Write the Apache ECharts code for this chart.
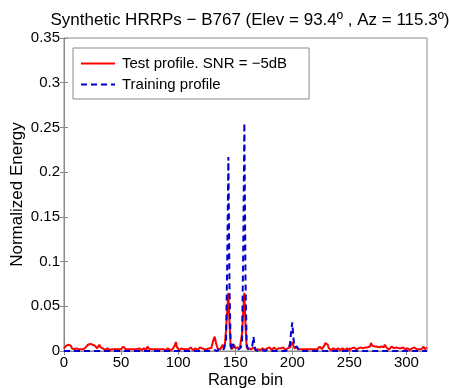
<!DOCTYPE html>
<html>
<head>
<meta charset="utf-8">
<script src="https://cdn.jsdelivr.net/npm/echarts@6/dist/echarts.min.js"></script>
<style>html,body{margin:0;padding:0;background:#fff}#c{width:449px;height:388px}</style>
</head>
<body>
<div id="c"></div>
<script>
const titleText = 'Synthetic HRRPs \u2212 B767 (Elev = 93.4\u00BA , Az = 115.3\u00BA)';
const seriesNames = ['Test profile. SNR = \u22125dB', 'Training profile'];
const xTicks = [0, 50, 100, 150, 200, 250, 300];
const yTicks = [0, 0.05, 0.1, 0.15, 0.2, 0.25, 0.3, 0.35];

// Test profile (red), bins 0..318
const testValues = [
0.003,0.005,0.006,0.008,0.007,0.009,0.006,0.003,0.004,0.002,
0.002,0.003,0.001,0.002,0.003,0.002,0.004,0.002,0.003,0.004,
0.005,0.007,0.006,0.008,0.007,0.007,0.005,0.006,0.004,0.003,
0.005,0.007,0.004,0.002,0.003,0.002,0.001,0.002,0.003,0.002,
0.001,0.002,0.002,0.003,0.002,0.001,0.002,0.003,0.002,0.001,
0.002,0.003,0.005,0.003,0.002,0.001,0.002,0.003,0.002,0.004,
0.002,0.001,0.002,0.003,0.002,0.001,0.003,0.002,0.001,0.002,
0.003,0.002,0.001,0.005,0.003,0.002,0.001,0.002,0.003,0.002,
0.001,0.002,0.003,0.002,0.001,0.002,0.003,0.002,0.002,0.001,
0.002,0.003,0.002,0.001,0.003,0.002,0.004,0.006,0.010,0.004,
0.002,0.001,0.002,0.003,0.001,0.002,0.003,0.002,0.001,0.002,
0.003,0.004,0.002,0.001,0.002,0.003,0.002,0.001,0.002,0.004,
0.002,0.003,0.001,0.002,0.003,0.002,0.004,0.003,0.002,0.003,
0.008,0.013,0.016,0.010,0.005,0.002,0.003,0.002,0.004,0.007,
0.003,0.008,0.025,0.045,0.065,0.030,0.005,0.002,0.004,0.007,
0.003,0.002,0.004,0.002,0.003,0.005,0.020,0.045,0.065,0.028,
0.004,0.002,0.003,0.005,0.002,0.003,0.004,0.002,0.001,0.003,
0.002,0.003,0.001,0.002,0.003,0.002,0.001,0.002,0.003,0.002,
0.004,0.002,0.001,0.003,0.004,0.002,0.001,0.002,0.003,0.002,
0.003,0.002,0.004,0.002,0.001,0.002,0.003,0.002,0.004,0.007,
0.010,0.006,0.003,0.002,0.004,0.003,0.002,0.001,0.002,0.003,
0.002,0.001,0.002,0.003,0.002,0.001,0.002,0.003,0.002,0.004,
0.002,0.003,0.002,0.004,0.005,0.003,0.002,0.004,0.006,0.009,
0.011,0.007,0.003,0.002,0.001,0.002,0.003,0.002,0.001,0.002,
0.003,0.002,0.001,0.002,0.003,0.002,0.001,0.002,0.003,0.002,
0.001,0.002,0.003,0.002,0.004,0.003,0.002,0.004,0.003,0.005,
0.004,0.006,0.003,0.005,0.004,0.002,0.004,0.006,0.005,0.009,
0.006,0.004,0.005,0.007,0.005,0.003,0.004,0.006,0.005,0.003,
0.004,0.007,0.005,0.003,0.004,0.002,0.003,0.005,0.004,0.003,
0.005,0.004,0.002,0.003,0.004,0.003,0.002,0.004,0.003,0.002,
0.002,0.003,0.002,0.001,0.002,0.003,0.002,0.004,0.003,0.002,
0.003,0.002,0.004,0.002,0.003,0.005,0.002,0.003,0.004
];

// Training profile (blue dashed), bins 0..318
const trainValues = [
0,0,0,0,0,0,0,0,0,0,
0,0,0,0,0,0,0,0,0,0,
0,0,0,0,0,0,0,0,0,0,
0,0,0,0,0,0,0,0,0,0,
0,0,0,0,0,0,0,0,0,0,
0,0,0,0,0,0,0,0,0,0,
0,0,0,0,0,0,0,0,0,0,
0,0,0,0,0,0,0,0,0,0,
0,0,0,0,0,0,0,0,0,0,
0,0,0,0,0,0,0,0,0,0,
0,0,0,0,0,0,0,0,0,0,
0,0,0,0,0,0,0,0,0,0,
0,0,0,0,0,0,0,0,0,0.001,
0,0,0.001,0,0,0.001,0.002,0.001,0.003,0.001,
0.002,0.004,0.012,0.100,0.217,0.070,0.006,0.002,0.008,0.003,
0.001,0.002,0.001,0.002,0.001,0.004,0.012,0.110,0.255,0.080,
0.008,0.002,0.001,0.003,0.002,0.006,0.016,0.005,0.001,0,
0,0.001,0,0,0.001,0,0,0,0.001,0,
0,0,0,0,0,0,0,0,0,0,
0,0,0,0,0,0,0.001,0.003,0.008,0.022,
0.032,0.014,0.004,0.002,0.005,0.002,0.001,0,0,0,
0,0,0,0,0,0,0,0,0,0,
0,0,0,0,0,0,0,0,0,0,
0,0,0,0,0,0,0,0,0,0,
0,0,0,0,0,0,0,0,0,0,
0,0,0,0,0,0,0,0,0,0,
0,0,0,0,0,0,0,0,0,0,
0,0,0,0,0,0,0,0,0,0,
0,0,0,0,0,0,0,0,0,0,
0,0,0,0,0,0,0,0,0,0,
0,0,0,0,0,0,0,0,0,0,
0,0,0,0,0,0,0,0,0
];

const xMax = 318;
const font = 'Liberation Sans, Arial, Helvetica, sans-serif';
const gray = '#8a8a8a';

const chart = echarts.init(document.getElementById('c'), null, {renderer: 'canvas'});

const toPairs = arr => arr.map((v, i) => [i, v]);

const hiddenAxisCommon = {
  axisLine: {show: false},
  axisLabel: {show: false},
  splitLine: {show: false}
};

chart.setOption({
  animation: false,
  backgroundColor: '#fff',
  title: {
    text: titleText,
    left: 245,
    top: 7,
    textAlign: 'center',
    textStyle: {fontFamily: font, fontSize: 17, fontWeight: 'normal', color: '#000'}
  },
  legend: {
    orient: 'vertical',
    left: 73,
    top: 48,
    data: seriesNames,
    itemWidth: 34,
    itemHeight: 10,
    itemGap: 6,
    padding: [8, 22, 7, 7],
    borderColor: gray,
    borderWidth: 1,
    backgroundColor: '#fff',
    itemStyle: {opacity: 0},
    textStyle: {fontFamily: font, fontSize: 15, color: '#000', padding: [0, 0, 0, 2]}
  },
  grid: {
    left: 64, right: 22, top: 38, bottom: 37,
    outerBoundsMode: 'none',
    containLabel: false,
    show: true, borderColor: gray, borderWidth: 1, backgroundColor: '#fff'
  },
  xAxis: [{
    type: 'value', min: 0, max: xMax, position: 'bottom',
    name: 'Range bin', nameLocation: 'middle', nameGap: 21, nameMoveOverlap: false,
    nameTextStyle: {fontFamily: font, fontSize: 16.5, color: '#000'},
    axisLine: {show: true, lineStyle: {color: gray}},
    axisTick: {show: true, inside: true, length: 4, lineStyle: {color: gray}, customValues: xTicks},
    axisLabel: {fontFamily: font, fontSize: 15, color: '#000', margin: 4, customValues: xTicks},
    splitLine: {show: false}
  }, Object.assign({
    type: 'value', min: 0, max: xMax, position: 'top',
    axisTick: {show: true, inside: true, length: 4, lineStyle: {color: gray}, customValues: xTicks}
  }, hiddenAxisCommon)],
  yAxis: [{
    type: 'value', min: 0, max: 0.35, interval: 0.05, position: 'left',
    name: 'Normalized Energy', nameLocation: 'middle', nameGap: 38, nameMoveOverlap: false,
    nameTextStyle: {fontFamily: font, fontSize: 17, color: '#000'},
    axisLine: {show: true, lineStyle: {color: gray}},
    axisTick: {show: true, inside: true, length: 4, lineStyle: {color: gray}},
    axisLabel: {fontFamily: font, fontSize: 15, color: '#000', margin: 4},
    splitLine: {show: false}
  }, Object.assign({
    type: 'value', min: 0, max: 0.35, interval: 0.05, position: 'right',
    axisTick: {show: true, inside: true, length: 4, lineStyle: {color: gray}}
  }, hiddenAxisCommon)],
  series: [{
    name: seriesNames[0],
    type: 'line',
    data: toPairs(testValues),
    symbol: 'none',
    clip: true,
    lineStyle: {color: '#ff0000', width: 2},
    itemStyle: {color: '#ff0000'}
  }, {
    name: seriesNames[1],
    type: 'line',
    data: toPairs(trainValues),
    symbol: 'none',
    clip: true,
    lineStyle: {color: '#0000d0', width: 2, type: [6, 4]},
    itemStyle: {color: '#0000d0'}
  }]
});
</script>
</body>
</html>
